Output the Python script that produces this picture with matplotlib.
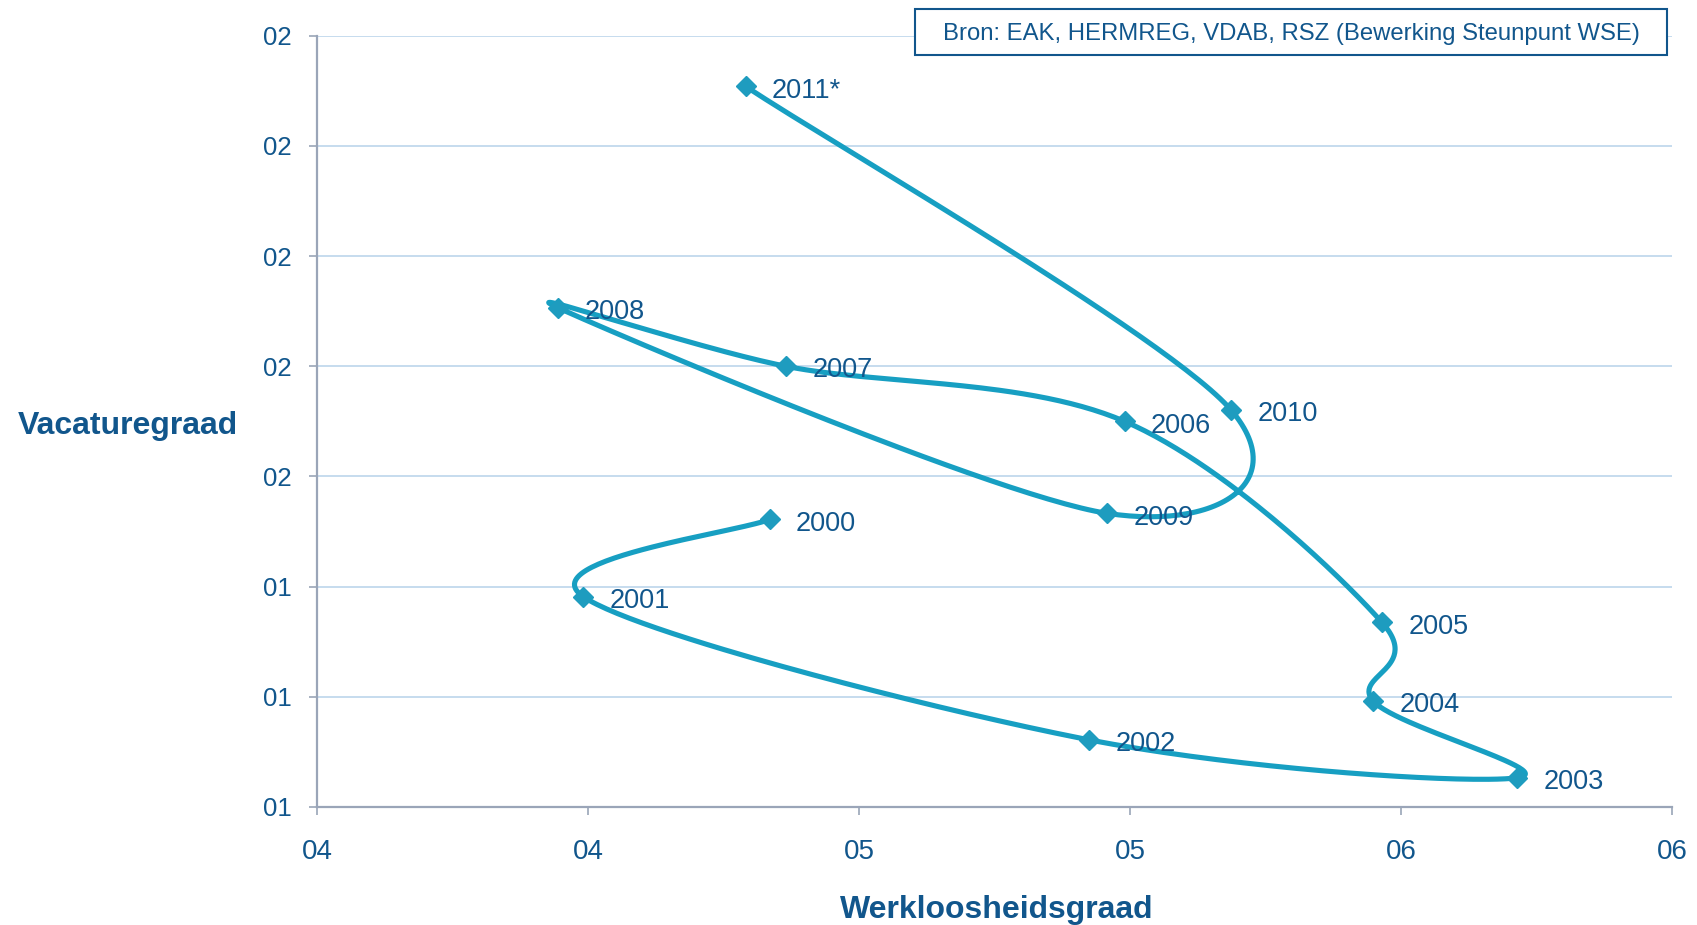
import numpy as np
import matplotlib
matplotlib.use("Agg")
import matplotlib.pyplot as plt

plt.rcParams['font.family'] = ['Liberation Sans', 'DejaVu Sans']

# ---- data ----
years = ['2000', '2001', '2002', '2003', '2004', '2005', '2006', '2007', '2008', '2009', '2010', '2011*']
unemployment = [4.835, 4.491, 5.424, 6.214, 5.949, 5.965, 5.490, 4.865, 4.445, 5.458, 5.687, 4.791]
vacancy = [1.522, 1.382, 1.122, 1.053, 1.192, 1.335, 1.700, 1.800, 1.906, 1.533, 1.720, 2.308]

x_ticks = [4.0, 4.5, 5.0, 5.5, 6.0, 6.5]
x_tick_labels = ['04', '04', '05', '05', '06', '06']
y_ticks = [1.0, 1.2, 1.4, 1.6, 1.8, 2.0, 2.2, 2.4]
y_tick_labels = ['01', '01', '01', '02', '02', '02', '02', '02']

source_text = 'Bron: EAK, HERMREG, VDAB, RSZ (Bewerking Steunpunt WSE)'

# ---- style ----
line_col = '#179fc2'
marker_col = '#1e9cbf'
text_col = '#11568c'
grid_col = '#c6dcee'
spine_col = '#9aa5b8'

W, H = 1697, 925
fig = plt.figure(figsize=(W / 100, H / 100), dpi=100)
ax = fig.add_axes([317 / W, 1 - 807 / H, (1672 - 317) / W, (807 - 35.7) / H])

ax.set_xlim(x_ticks[0], x_ticks[-1])
ax.set_ylim(y_ticks[0], y_ticks[-1])

ax.set_xticks(x_ticks)
ax.set_xticklabels(x_tick_labels)
ax.set_yticks(y_ticks)
ax.set_yticklabels(y_tick_labels)

for s in ['top', 'right']:
    ax.spines[s].set_visible(False)
for s in ['left', 'bottom']:
    ax.spines[s].set_color(spine_col)
    ax.spines[s].set_linewidth(1.6)

ax.tick_params(axis='both', direction='out', length=6, width=1.2, color=spine_col,
               labelcolor=text_col, labelsize=18.5)
ax.tick_params(axis='y', pad=12)
ax.tick_params(axis='x', pad=17)
for lab in ax.get_xticklabels():
    lab.set_fontsize(20)

ax.yaxis.grid(True, color=grid_col, linewidth=1.4)
ax.set_axisbelow(True)

# ---- smoothed line (Excel-like Catmull-Rom in display space) ----
fig.canvas.draw()
pts = ax.transData.transform(np.column_stack([unemployment, vacancy]))
n = len(pts)
segs = []
for i in range(n - 1):
    p0 = pts[i - 1] if i > 0 else pts[i]
    p1 = pts[i]
    p2 = pts[i + 1]
    p3 = pts[i + 2] if i + 2 < n else pts[i + 1]
    c1 = p1 + (p2 - p0) / 6.0
    c2 = p2 - (p3 - p1) / 6.0
    t = np.linspace(0, 1, 60)[:, None]
    B = ((1 - t) ** 3) * p1 + 3 * ((1 - t) ** 2) * t * c1 + 3 * (1 - t) * t ** 2 * c2 + t ** 3 * p2
    segs.append(B if i == 0 else B[1:])
curve_px = np.vstack(segs)
curve = ax.transData.inverted().transform(curve_px)
ax.plot(curve[:, 0], curve[:, 1], color=line_col, linewidth=3.7, solid_capstyle='round', zorder=3)
ax.plot(unemployment, vacancy, linestyle='none', marker='D', markersize=10,
        color=marker_col, zorder=4)

for yr, xv, yv in zip(years, unemployment, vacancy):
    ax.annotate(yr, (xv, yv), xytext=(19, -3.0), textcoords='offset points',
                ha='left', va='center', fontsize=19.5, color=text_col)

# ---- axis titles ----
fig.text(18 / W, 1 - 426 / H, 'Vacaturegraad', ha='left', va='center',
         fontsize=23, fontweight='bold', color=text_col)
fig.text(997 / W, 1 - 910 / H, 'Werkloosheidsgraad', ha='center', va='center',
         fontsize=23, fontweight='bold', color=text_col)

# ---- source box ----
box_l, box_r, box_t, box_b = 915, 1667, 8.7, 55
fig.patches.append(plt.Rectangle((box_l / W, 1 - box_b / H), (box_r - box_l) / W, (box_b - box_t) / H,
                                 transform=fig.transFigure, facecolor='white', edgecolor=text_col,
                                 linewidth=1.5, zorder=5))
fig.text((box_l + box_r) / 2 / W, 1 - 34 / H, source_text, ha='center', va='center',
         fontsize=17.2, color=text_col, zorder=6)

fig.savefig('out.png', dpi=100)
